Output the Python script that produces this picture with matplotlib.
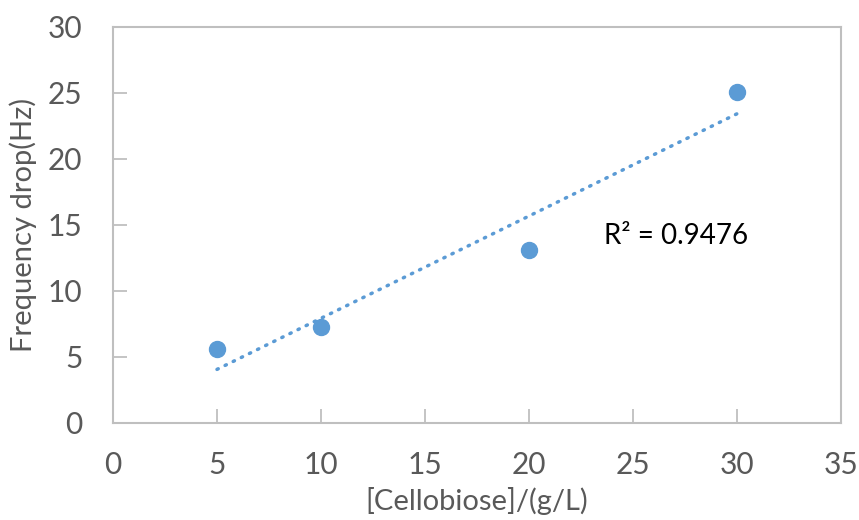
import numpy as np
import matplotlib
matplotlib.use("Agg")
import matplotlib.pyplot as plt

#### data
conc = [5, 10, 20, 30]            # [Cellobiose] g/L
freq_drop = [5.6, 7.3, 13.1, 25.1]  # Hz
x_ticks = [0, 5, 10, 15, 20, 25, 30, 35]
y_ticks = [0, 5, 10, 15, 20, 25, 30]
r2_label = "R² = 0.9476"

#### style
plt.rcParams['font.family'] = ['Lato', 'DejaVu Sans']
grey_txt = '#595959'
grey_axis = '#BFBFBF'
blue = '#5B9BD5'

fig = plt.figure(figsize=(8.59, 5.2), dpi=100)
ax = fig.add_axes([113/859, 1 - 423/520, (841-113)/859, (423-27)/520])

ax.plot(conc, freq_drop, 'o', color=blue, markersize=11.5, zorder=3)

# linear trendline
slope, icpt = np.polyfit(conc, freq_drop, 1)
xs = np.array([min(conc), max(conc)])
ax.plot(xs, slope * xs + icpt, color=blue, lw=2.5, linestyle=(0, (0.4, 2.2)),
        dash_capstyle='round', zorder=2)

ax.text(23.6, 14.2, r2_label, fontsize=20, color='black', va='center', ha='left')

ax.set_xlim(0, 35)
ax.set_ylim(0, 30)
ax.set_xticks(x_ticks)
ax.set_yticks(y_ticks)
ax.tick_params(direction='in', length=10, width=1.3, color=grey_axis,
               labelsize=21.5, labelcolor=grey_txt)
ax.tick_params(axis='y', pad=22)
ax.tick_params(axis='x', pad=20)
for s in ax.spines.values():
    s.set_color(grey_axis)
    s.set_linewidth(1.5)

ax.set_xlabel("[Cellobiose]/(g/L)", fontsize=21, color=grey_txt, labelpad=6)
ax.set_ylabel("Frequency drop(Hz)", fontsize=21, color=grey_txt, labelpad=8)

fig.savefig("out.png", dpi=100)
